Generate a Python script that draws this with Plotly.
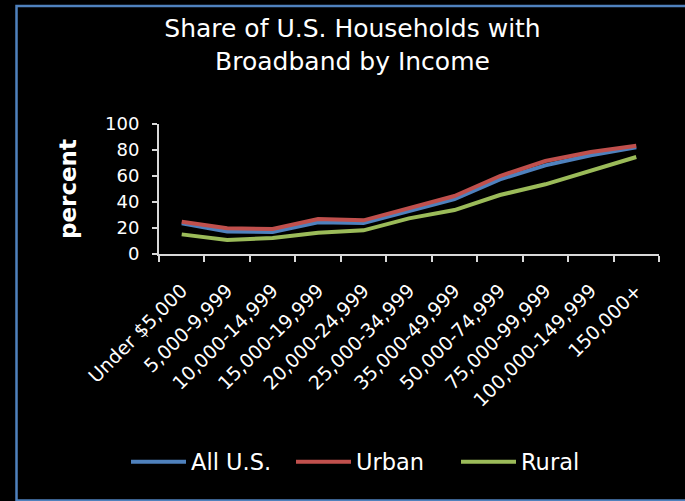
import plotly.graph_objects as go

categories = ["Under $5,000", "5,000-9,999", "10,000-14,999", "15,000-19,999",
              "20,000-24,999", "25,000-34,999", "35,000-49,999", "50,000-74,999",
              "75,000-99,999", "100,000-149,999", "150,000+"]
all_us = [23.6, 17.4, 17.0, 24.4, 23.8, 33.3, 42.3, 57.4, 68.2, 75.9, 82.0]
urban = [24.8, 19.8, 19.2, 26.9, 25.9, 35.1, 44.6, 60.0, 71.5, 78.5, 83.3]
rural = [15.1, 10.8, 12.3, 16.4, 18.2, 27.4, 33.8, 45.4, 53.6, 63.8, 74.6]

series = [("All U.S.", all_us, "#4F81BD"), ("Urban", urban, "#C0504D"), ("Rural", rural, "#9BBB59")]

FONT = "DejaVu Sans"
W, H = 685, 501
L, R, T, B = 159, 685 - 659, 124, 501 - 254
pw, ph = W - L - R, H - T - B

fig = go.Figure()
for name, vals, col in series:
    fig.add_trace(go.Scatter(x=categories, y=vals, mode="lines", name=name,
                             line=dict(color=col, width=4)))

def px_x(x):
    return (x - L) / pw

def px_y(y):
    return (H - B - y) / ph

fig.update_layout(
    width=W, height=H,
    margin=dict(l=L, r=R, t=T, b=B),
    paper_bgcolor="#000000", plot_bgcolor="#000000",
    font=dict(family=FONT, color="#FFFFFF"),
    title=dict(text="Share of U.S. Households with<br>Broadband by Income",
               x=352.5 / W, xanchor="center", y=1 - 37 / H, yanchor="middle",
               font=dict(size=25, color="#FFFFFF", family=FONT)),
    showlegend=True,
    legend=dict(orientation="h", x=px_x(126), xanchor="left", y=px_y(462), yanchor="middle",
                font=dict(size=22.5, color="#FFFFFF", family=FONT),
                bgcolor="rgba(0,0,0,0)", entrywidth=95, entrywidthmode="pixels",
                itemwidth=55),
    xaxis=dict(type="category", range=[-0.5, 10.5], tickson="boundaries",
               showline=True, linecolor="#D9D9D9", linewidth=2,
               ticks="outside", ticklen=6, tickcolor="#D9D9D9", tickwidth=2,
               tickangle=-45, tickfont=dict(size=19, color="#FFFFFF", family=FONT),
               showgrid=False, zeroline=False, ticklabelstandoff=16),
    yaxis=dict(range=[0, 100], dtick=20, tick0=0,
               showline=True, linecolor="#D9D9D9", linewidth=2,
               ticks="outside", ticklen=5, tickcolor="#D9D9D9", tickwidth=2,
               tickfont=dict(size=18, color="#FFFFFF", family=FONT),
               showgrid=False, zeroline=False, ticklabelstandoff=9,
               title=dict(text="<b>percent</b>", font=dict(size=23, color="#FFFFFF", family=FONT),
                          standoff=22)),
    shapes=[dict(type="rect", xref="paper", yref="paper",
                 x0=px_x(16.5), x1=px_x(690), y0=px_y(6), y1=px_y(500.5),
                 line=dict(color="#4F81BD", width=2.5), fillcolor="rgba(0,0,0,0)", layer="below")],
)

fig.write_html("out.html", config={"displayModeBar": False},
               post_script="document.body.style.margin='0px';document.body.style.background='#000';")
